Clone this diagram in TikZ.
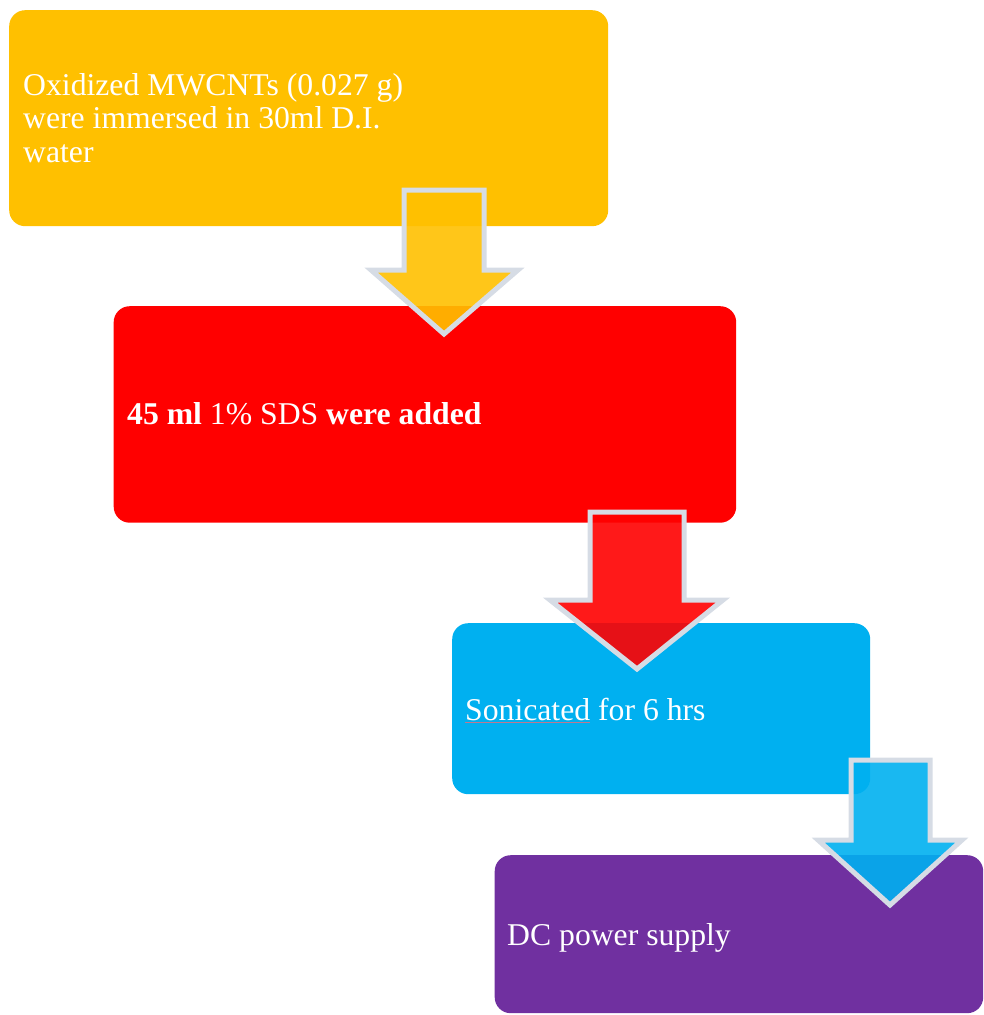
\documentclass[tikz,border=0pt]{standalone}
\usepackage{fontspec}
\setmainfont{Liberation Serif}
\usetikzlibrary{calc}
\definecolor{cyel}{HTML}{FFC000}
\definecolor{cred}{HTML}{FF0000}
\definecolor{ccyan}{HTML}{00B0F0}
\definecolor{cpurp}{HTML}{7030A0}
\definecolor{aline}{HTML}{D6DCE5}
\definecolor{spellred}{HTML}{C07890}
\begin{document}
\begin{tikzpicture}[x=1pt,y=-1pt,
  box/.style={rectangle, rounded corners=16pt, draw=none, inner sep=0pt, anchor=north west},
  lbl/.style={text=white, font=\fontsize{31.7}{33.5}\selectfont, inner sep=0pt, anchor=base west, align=left},
  downarrow/.style={draw=aline, line width=5pt, line join=miter, miter limit=10, fill opacity=0.9}]
\useasboundingbox (0,0) rectangle (984,1015);
% boxes
\node[box, fill=cyel,  minimum width=599pt,   minimum height=216pt]   (b1) at (9,10) {};
\node[box, fill=cred,  minimum width=622.5pt, minimum height=216.5pt] (b2) at (113.5,306) {};
\node[box, fill=ccyan, minimum width=418pt,   minimum height=171pt]   (b3) at (452,623) {};
\node[box, fill=cpurp, minimum width=488.5pt, minimum height=158pt]   (b4) at (494.5,855) {};
% texts
\node[lbl] (t1) at (23,162) {Oxidized MWCNTs (0.027 g)\\were immersed in 30ml D.I.\\water};
\node[lbl] (t2) at (127,424) {\textbf{45 ml} 1\% SDS \textbf{were added}};
\node[lbl] (t3) at (465,720) {Sonicated for 6 hrs};
\node[lbl] (t4) at (507,945) {DC power supply};
\draw[spellred, line width=0.6pt] ($(t3.base west)+(0,2)$) -- ++(125,0);
% arrows
\path[downarrow, fill=cyel] (404,190) -- (484,190) -- (484,270) -- (518,270) -- (444,334) -- (371,270) -- (404,270) -- cycle;
\path[downarrow, fill=cred] (590,512) -- (684,512) -- (684,600) -- (723,600) -- (637,669) -- (550,600) -- (590,600) -- cycle;
\path[downarrow, fill=ccyan] (851,760) -- (930,760) -- (930,840) -- (962,840) -- (890,905) -- (818,840) -- (851,840) -- cycle;
\end{tikzpicture}
\end{document}
